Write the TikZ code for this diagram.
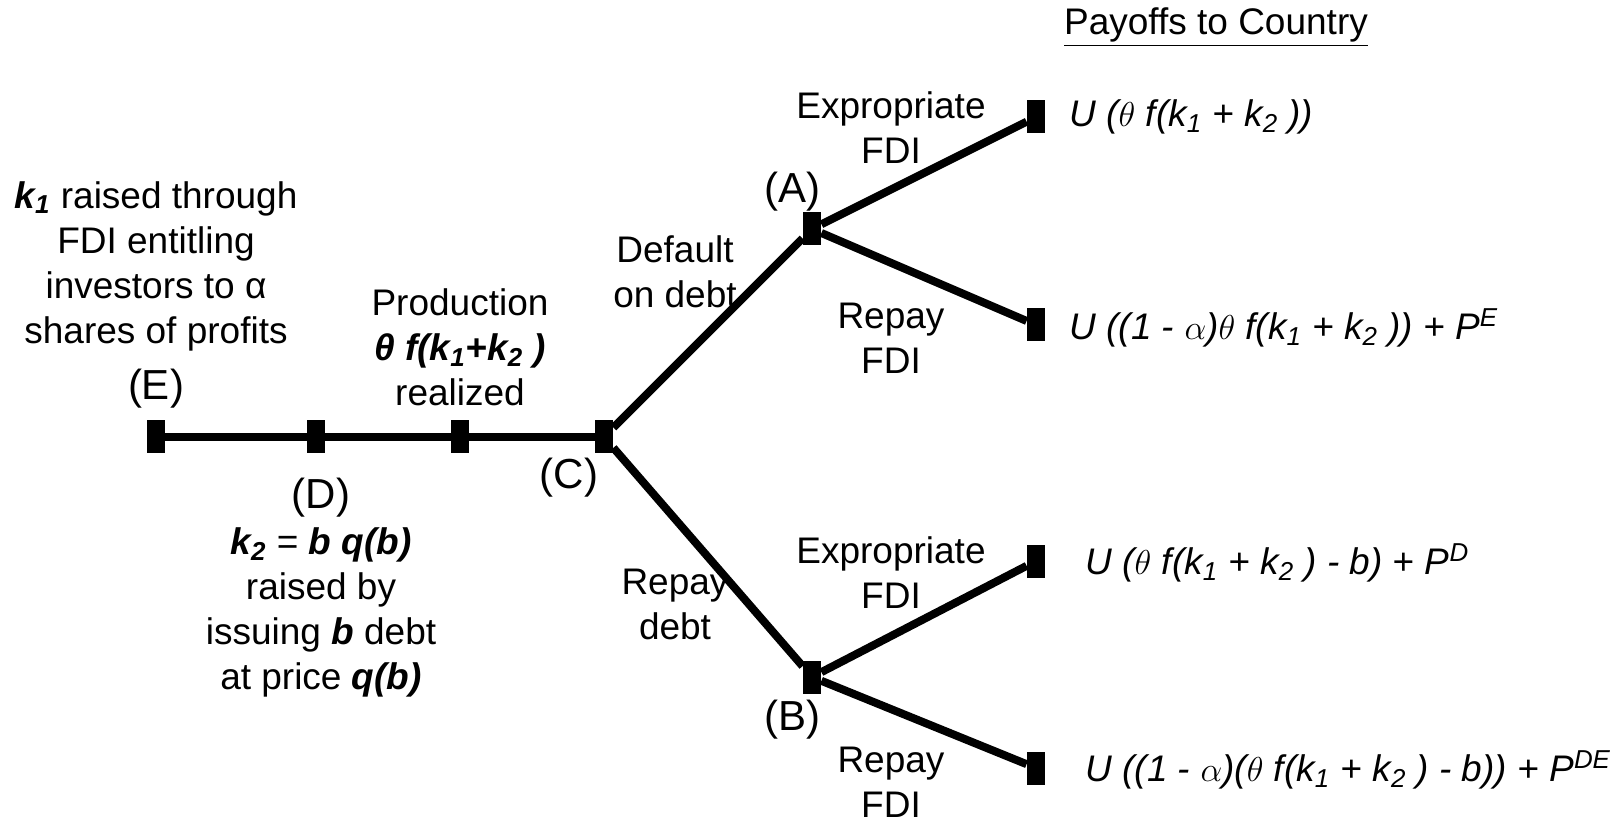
\documentclass[tikz,border=0pt]{standalone}
\usepackage{fontspec}
\setmainfont{Liberation Sans}
\begin{document}
\begin{tikzpicture}[x=0.5pt,y=-0.5pt,font=\fontsize{18.5}{22.5}\selectfont]
            \useasboundingbox (0,0) rectangle (1612,823);
            \begin{scope}[every node/.style={rectangle,fill=black,inner sep=0pt,minimum width=9pt,minimum height=16.5pt}]
                \node (E) at (156,437) {};
                \node (D) at (316,437) {};
                \node (P) at (460,437) {};
                \node (C) at (604,437) {};
                \node (A) at (812,229) {};
                \node (B) at (812,677) {};
                \node (AE) at (1036,117) {};
                \node (AR) at (1036,325) {};
                \node (BE) at (1036,561) {};
                \node (BR) at (1036,768) {};
            \end{scope}
            \begin{scope}[every path/.style={line width=4pt}]
                \path (E) edge (D);
                \path (D) edge (P);
                \path (P) edge (C);
                \path (C) edge (A);
                \path (C) edge (B);
                \path (A) edge (AE);
                \path (A) edge (AR);
                \path (B) edge (BE);
                \path (B) edge (BR);
            \end{scope}
            \begin{scope}[every node/.style={align=center,inner sep=0pt}]
                \node (title) at (1216,27) {\underline{Payoffs to Country}};
                \node (Elab) at (156,389) {\fontsize{21}{25}\selectfont (E)};
                \node (Dlab) at (321,498) {\fontsize{21}{25}\selectfont (D)};
                \node (Clab) at (569,478) {\fontsize{21}{25}\selectfont (C)};
                \node (Alab) at (792,192) {\fontsize{21}{25}\selectfont (A)};
                \node (Blab) at (792,720) {\fontsize{21}{25}\selectfont (B)};
                \node (Etext) at (156,266) {\textbf{\textit{k\textsubscript{1}}} raised through\\FDI entitling\\investors to α\\shares of profits};
                \node (Ptext) at (460,347) {Production\\\textbf{\textit{θ f(k\textsubscript{1}+k\textsubscript{2} )}}\\realized};
                \node (Dtext) at (321,612) {\textbf{\textit{k\textsubscript{2}}} = \textbf{\textit{b q(b)}}\\raised by\\issuing \textbf{\textit{b}} debt\\at price \textbf{\textit{q(b)}}};
                \node (CAtext) at (675,272) {Default\\on debt};
                \node (CBtext) at (675,604) {Repay\\debt};
                \node (AEtext) at (891,128) {Expropriate\\FDI};
                \node (ARtext) at (891,338) {Repay\\FDI};
                \node (BEtext) at (891,573) {Expropriate\\FDI};
                \node (BRtext) at (891,782) {Repay\\FDI};
            \end{scope}
            \begin{scope}[every node/.style={anchor=west,inner sep=0pt,font=\fontsize{18.5}{22.5}\selectfont\itshape}]
                \node (AEpay) at (1069,117) {U ($\theta$ f(k\textsubscript{1} + k\textsubscript{2} ))};
                \node (ARpay) at (1069,328) {U ((1 - $\alpha$)$\theta$ f(k\textsubscript{1} + k\textsubscript{2} )) + P\textsuperscript{E}};
                \node (BEpay) at (1085,563) {U ($\theta$ f(k\textsubscript{1} + k\textsubscript{2} ) - b) + P\textsuperscript{D}};
                \node (BRpay) at (1085,770) {U ((1 - $\alpha$)($\theta$ f(k\textsubscript{1} + k\textsubscript{2} ) - b)) + P\textsuperscript{DE}};
            \end{scope}
        \end{tikzpicture}
\end{document}
